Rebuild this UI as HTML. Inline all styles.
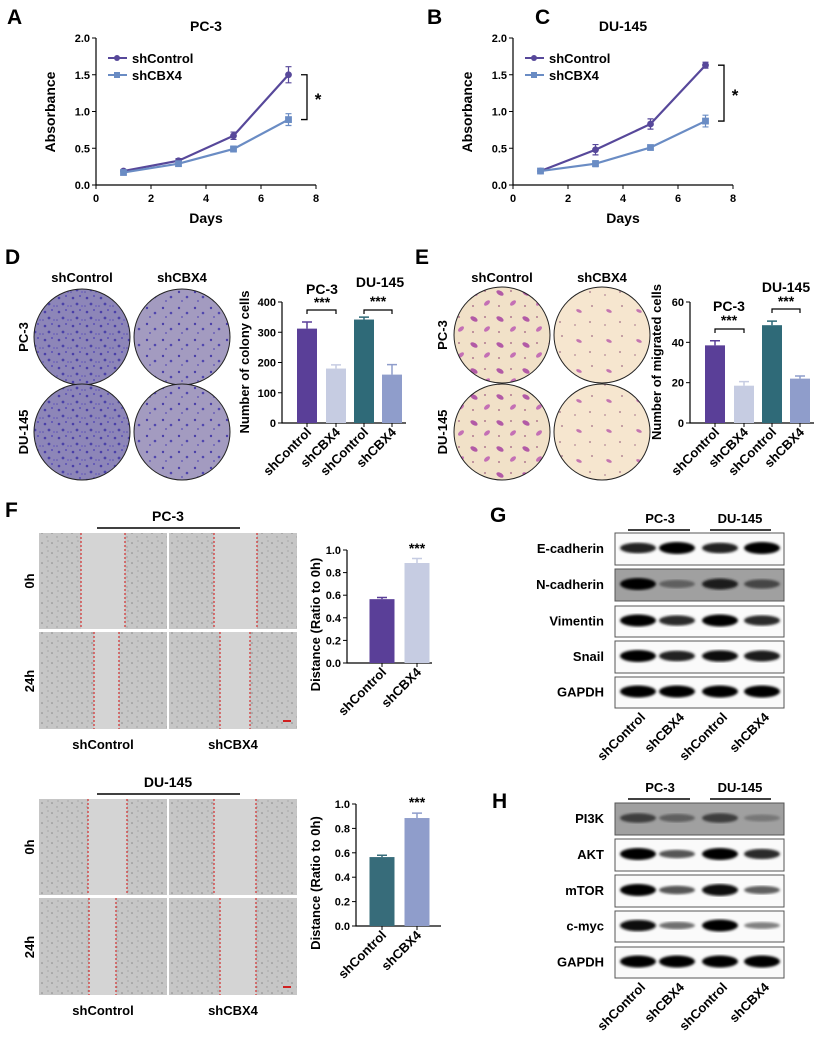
<!DOCTYPE html>
<html><head><meta charset="utf-8">
<style>
html,body{margin:0;padding:0;background:#fff;}
svg{display:block;font-family:"Liberation Sans",Arial,sans-serif;font-weight:bold;}
</style></head>
<body>
<svg id="fig" width="824" height="1043" viewBox="0 0 824 1043" xmlns="http://www.w3.org/2000/svg">
<defs>
  <pattern id="crystal" width="14" height="14" patternUnits="userSpaceOnUse">
    <rect width="14" height="14" fill="#8d86b8"/>
    <circle cx="3" cy="4" r="1.3" fill="#4a3fa8"/><circle cx="10" cy="2" r="1" fill="#5a4fb5"/>
    <circle cx="7" cy="10" r="1.4" fill="#4b42a8"/><circle cx="12" cy="12" r="0.9" fill="#6a5fc0"/>
    <circle cx="1" cy="12" r="0.8" fill="#5a50b0"/>
  </pattern>
  <pattern id="crystal2" width="16" height="16" patternUnits="userSpaceOnUse">
    <rect width="16" height="16" fill="#a39bc0"/>
    <circle cx="3" cy="4" r="1.2" fill="#4a3fa8"/><circle cx="11" cy="9" r="1.3" fill="#5147ae"/>
    <circle cx="6" cy="13" r="0.9" fill="#5a4fb5"/>
  </pattern>
  <pattern id="trans" width="26" height="26" patternUnits="userSpaceOnUse">
    <rect width="26" height="26" fill="#f1e1c8"/>
    <ellipse cx="6" cy="7" rx="4" ry="2.2" fill="#b25aa6" transform="rotate(30 6 7)"/>
    <ellipse cx="19" cy="17" rx="3.5" ry="2" fill="#c470b5" transform="rotate(-40 19 17)"/>
    <circle cx="17" cy="5" r="1" fill="#b07a90"/><circle cx="5" cy="20" r="1" fill="#b07a90"/>
  </pattern>
  <pattern id="trans2" width="30" height="30" patternUnits="userSpaceOnUse">
    <rect width="30" height="30" fill="#f6e6cf"/>
    <ellipse cx="9" cy="11" rx="3" ry="1.5" fill="#c476b0" transform="rotate(25 9 11)"/>
    <circle cx="22" cy="6" r="1" fill="#b58a98"/><circle cx="20" cy="22" r="1" fill="#b58a98"/>
    <circle cx="5" cy="25" r="0.9" fill="#b58a98"/>
  </pattern>
  <pattern id="speck" width="10" height="10" patternUnits="userSpaceOnUse">
    <rect width="10" height="10" fill="#c6c6c6"/>
    <circle cx="2" cy="3" r="0.8" fill="#888"/><circle cx="7" cy="7" r="0.7" fill="#999"/>
    <circle cx="8" cy="1" r="0.5" fill="#777"/>
  </pattern>
  <filter id="blur"><feGaussianBlur stdDeviation="1.2"/></filter>
</defs>

<g font-size="21" fill="#000">
  <text x="7" y="24">A</text>
  <text x="427" y="24">B</text>
  <text x="535" y="24">C</text>
  <text x="5" y="264">D</text>
  <text x="415" y="264">E</text>
  <text x="5" y="517">F</text>
  <text x="490" y="522">G</text>
  <text x="492" y="808">H</text>
</g>

<g id="layerA"></g>
<g id="layerC"></g>
<g id="layerD"></g>
<g id="layerE"></g>
<g id="layerF"></g>
<g id="layerG"></g>
<g id="layerH"></g>
</svg>

<script>
// ---------- Data ----------
const days = [1, 3, 5, 7];
const dayTicks = [0, 2, 4, 6, 8];
const absTicks = [0.0, 0.5, 1.0, 1.5, 2.0];
const absTickLabels = ["0.0", "0.5", "1.0", "1.5", "2.0"];
const pcCtrl = [0.19, 0.33, 0.67, 1.50];
const pcCtrlErr = [0.02, 0.03, 0.05, 0.11];
const pcCbx = [0.17, 0.29, 0.49, 0.89];
const pcCbxErr = [0.02, 0.02, 0.04, 0.08];
const duCtrl = [0.19, 0.48, 0.83, 1.63];
const duCtrlErr = [0.02, 0.07, 0.07, 0.04];
const duCbx = [0.19, 0.29, 0.51, 0.87];
const duCbxErr = [0.02, 0.04, 0.03, 0.08];

const groupLabels = ["shControl", "shCBX4", "shControl", "shCBX4"];
const colonyVals = [312, 180, 342, 160];
const colonyErr = [22, 12, 8, 33];
const colonyTicks = [0, 100, 200, 300, 400];
const migVals = [38.5, 18.5, 48.5, 22];
const migErr = [2.3, 2.0, 2.0, 1.3];
const migTicks = [0, 20, 40, 60];
const woundLabels = ["shControl", "shCBX4"];
const woundPC = [0.565, 0.885];
const woundPCErr = [0.015, 0.04];
const woundDU = [0.565, 0.885];
const woundDUErr = [0.015, 0.04];
const woundTicks = [0, 0.2, 0.4, 0.6, 0.8, 1.0];
const woundTickLabels = ["0.0", "0.2", "0.4", "0.6", "0.8", "1.0"];

const blotG = ["E-cadherin", "N-cadherin", "Vimentin", "Snail", "GAPDH"];
const blotGInt = [[0.8, 1.0, 0.8, 1.0], [1.0, 0.45, 0.85, 0.6], [1.0, 0.75, 1.0, 0.75], [1.0, 0.8, 0.9, 0.85], [1.0, 1.0, 1.0, 1.0]];
const blotH = ["PI3K", "AKT", "mTOR", "c-myc", "GAPDH"];
const blotHInt = [[0.65, 0.45, 0.65, 0.3], [1.0, 0.5, 1.0, 0.75], [1.0, 0.5, 0.95, 0.45], [0.9, 0.35, 1.0, 0.25], [1.0, 1.0, 1.0, 1.0]];

// ---------- helpers ----------
const NS = "http://www.w3.org/2000/svg";
function mk(tag, attrs, parent) {
  const el = document.createElementNS(NS, tag);
  for (const k in attrs) el.setAttribute(k, attrs[k]);
  parent.appendChild(el);
  return el;
}
function txt(parent, x, y, s, size, anchor, extra) {
  const t = mk("text", Object.assign({x: x, y: y, "font-size": size, "text-anchor": anchor || "middle", fill: "#000"}, extra || {}), parent);
  t.textContent = s;
  return t;
}

// ---------- line charts ----------
function lineChart(layer, ox, title, ctrl, ctrlErr, cbx, cbxErr) {
  const x0 = ox, x1 = ox + 220, y0 = 185, yT = 38;
  const sx = d => x0 + (d - 0) / 8 * (x1 - x0);
  const sy = v => y0 - v / 2 * (y0 - yT);
  const ax = mk("path", {d: `M${x0},${yT} V${y0} H${x1}`, stroke: "#000", "stroke-width": 1.2, fill: "none"}, layer);
  
  
  absTicks.forEach((t, i) => {
    mk("line", {x1: x0 - 4, x2: x0, y1: sy(t), y2: sy(t), stroke: "#000"}, layer);
    const tl = txt(layer, x0 - 6, sy(t) + 4, absTickLabels[i], 11, "end");
    
    
  });
  dayTicks.forEach(t => {
    mk("line", {x1: sx(t), x2: sx(t), y1: y0, y2: y0 + 4, stroke: "#000"}, layer);
    const tl = txt(layer, sx(t), y0 + 17, String(t), 11);
    
    
  });
  const tt = txt(layer, ox + 110, 31, title, 14);
  
  
  const xt = txt(layer, ox + 110, 223, "Days", 14);
  
  
  const yt = txt(layer, 0, 0, "Absorbance", 14, "middle", {transform: `translate(${ox - 41},112) rotate(-90)`});
  
  

  const series = [[ctrl, ctrlErr, "#57489a", "circle"], [cbx, cbxErr, "#6a8cc4", "square"]];
  series.forEach(([vals, errs, col, shape], si) => {
    const g = mk("g", {}, layer);
    
    
    mk("polyline", {points: days.map((d, i) => `${sx(d)},${sy(vals[i])}`).join(" "), stroke: col, "stroke-width": 2.2, fill: "none"}, g);
    days.forEach((d, i) => {
      const e = errs[i];
      mk("path", {d: `M${sx(d)},${sy(vals[i] - e)} V${sy(vals[i] + e)} M${sx(d) - 3},${sy(vals[i] + e)} h6 M${sx(d) - 3},${sy(vals[i] - e)} h6`, stroke: col, "stroke-width": 1.2, fill: "none"}, g);
      let m;
      if (shape === "circle") m = mk("circle", {cx: sx(d), cy: sy(vals[i]), r: 3.4, fill: col}, g);
      else m = mk("rect", {x: sx(d) - 3.4, y: sy(vals[i]) - 3.4, width: 6.8, height: 6.8, fill: col}, g);
      
      
    });
    const ly = 58 + si * 17;
    const lg = mk("g", {}, layer);
    
    
    mk("line", {x1: ox + 12, x2: ox + 31, y1: ly, y2: ly, stroke: col, "stroke-width": 2}, lg);
    if (shape === "circle") mk("circle", {cx: ox + 21, cy: ly, r: 3, fill: col}, lg);
    else mk("rect", {x: ox + 18, y: ly - 3, width: 6, height: 6, fill: col}, lg);
    txt(lg, ox + 36, ly + 5, si === 0 ? "shControl" : "shCBX4", 13, "start");
  });
  const last = days.length - 1;
  const br = mk("path", {d: `M${x1 - 15},${sy(ctrl[last])} h6 V${sy(cbx[last])} h-6`, stroke: "#000", "stroke-width": 1.3, fill: "none"}, layer);
  
  
  const st = txt(layer, x1 + 2, (sy(ctrl[last]) + sy(cbx[last])) / 2 + 8, "*", 17, "middle");
  
  
}
lineChart(document.getElementById("layerA"), 96, "PC-3", pcCtrl, pcCtrlErr, pcCbx, pcCbxErr);
lineChart(document.getElementById("layerC"), 513, "DU-145", duCtrl, duCtrlErr, duCbx, duCbxErr);

// ---------- bar charts ----------
function barChart(layer, o) {
  const sy = v => o.y0 - v / o.max * (o.y0 - o.yT);
  const ax = mk("path", {d: `M${o.ax},${o.yT} V${o.y0} H${o.xEnd}`, stroke: "#000", "stroke-width": 1.2, fill: "none"}, layer);
  
  
  o.ticks.forEach((t, i) => {
    mk("line", {x1: o.ax - 4, x2: o.ax, y1: sy(t), y2: sy(t), stroke: "#000"}, layer);
    const tl = txt(layer, o.ax - 6, sy(t) + 4, o.tickLabels ? o.tickLabels[i] : String(t), 11, "end");
    
    
  });
  o.vals.forEach((v, i) => {
    const c = o.centers[i];
    const b = mk("rect", {x: c - o.w / 2, y: sy(v), width: o.w, height: o.y0 - sy(v), fill: o.colors[i]}, layer);
    
    
    const e = o.errs[i];
    const eb = mk("path", {d: `M${c},${sy(v)} V${sy(v + e)} M${c - 5},${sy(v + e)} h10`, stroke: o.colors[i], "stroke-width": 1.5, fill: "none"}, layer);
    
    
    mk("line", {x1: c, x2: c, y1: o.y0, y2: o.y0 + 4, stroke: "#000"}, layer);
    const xl = txt(layer, 0, 0, o.labels[i], 13, "end", {transform: `translate(${c + 5},${o.y0 + 10}) rotate(-45)`});
    
    
  });
  const yl = txt(layer, 0, 0, o.ytitle, 13, "middle", {transform: `translate(${o.ylx},${o.yly}) rotate(-90)`});
  
  
}

// ---------- Panel D ----------
(function () {
  const L = document.getElementById("layerD");
  txt(L, 82, 282, "shControl", 13);
  txt(L, 182, 282, "shCBX4", 13);
  txt(L, 0, 0, "PC-3", 13, "middle", {transform: "translate(28,337) rotate(-90)"});
  txt(L, 0, 0, "DU-145", 13, "middle", {transform: "translate(28,432) rotate(-90)"});
  [[82, 337, "crystal"], [182, 337, "crystal2"], [82, 432, "crystal"], [182, 432, "crystal2"]].forEach(([cx, cy, p]) => {
    const d = mk("circle", {cx: cx, cy: cy, r: 48, fill: `url(#${p})`, stroke: "#222", "stroke-width": 1}, L);
    
    
  });
  barChart(L, {ax: 282, xEnd: 406, y0: 423, yT: 302, max: 400, ticks: colonyTicks, vals: colonyVals, errs: colonyErr,
    centers: [307, 336, 364, 392], w: 20, colors: ["#5a3f98", "#c6cce2", "#2f6a78", "#8f9dcb"], labels: groupLabels,
    ytitle: "Number of colony cells", ylx: 249, yly: 362});
  txt(L, 322, 294, "PC-3", 14); txt(L, 322, 307, "***", 14);
  txt(L, 380, 287, "DU-145", 14); txt(L, 378, 306, "***", 14);
  mk("path", {d: "M307,314 v-4 h29 v4 M364,314 v-4 h28 v4", stroke: "#000", "stroke-width": 1.2, fill: "none"}, L);
})();

// ---------- Panel E ----------
(function () {
  const L = document.getElementById("layerE");
  txt(L, 502, 282, "shControl", 13);
  txt(L, 602, 282, "shCBX4", 13);
  txt(L, 0, 0, "PC-3", 13, "middle", {transform: "translate(447,335) rotate(-90)"});
  txt(L, 0, 0, "DU-145", 13, "middle", {transform: "translate(447,432) rotate(-90)"});
  [[502, 335, "trans"], [602, 335, "trans2"], [502, 432, "trans"], [602, 432, "trans2"]].forEach(([cx, cy, p]) => {
    const d = mk("circle", {cx: cx, cy: cy, r: 48, fill: `url(#${p})`, stroke: "#222", "stroke-width": 1}, L);
    
    
  });
  barChart(L, {ax: 690, xEnd: 814, y0: 423, yT: 302, max: 60, ticks: migTicks, vals: migVals, errs: migErr,
    centers: [715, 744, 772, 800], w: 20, colors: ["#5a3f98", "#c6cce2", "#2f6a78", "#8f9dcb"], labels: groupLabels,
    ytitle: "Number of migrated cells", ylx: 661, yly: 362});
  txt(L, 729, 311, "PC-3", 14); txt(L, 729, 325, "***", 14);
  txt(L, 786, 292, "DU-145", 14); txt(L, 786, 306, "***", 14);
  mk("path", {d: "M715,333 v-4 h29 v4 M772,313 v-4 h28 v4", stroke: "#000", "stroke-width": 1.2, fill: "none"}, L);
})();

// ---------- Panel F ----------
function scratch(L, top, title, reds, chartAx, y0, yT, vals, errs, colors) {
  txt(L, 168, top - 12, title, 14);
  mk("line", {x1: 97, x2: 240, y1: top - 5, y2: top - 5, stroke: "#000", "stroke-width": 1.5}, L);
  const rows = [[top, top + 96], [top + 99, top + 196]];
  const cols = [[39, 167], [169, 297]];
  rows.forEach((r, ri) => cols.forEach((c, ci) => {
    const im = mk("rect", {x: c[0], y: r[0], width: c[1] - c[0], height: r[1] - r[0], fill: "url(#speck)"}, L);
    
    
    const rl = reds[ri][ci];
    mk("rect", {x: rl[0], y: r[0], width: rl[1] - rl[0], height: r[1] - r[0], fill: "#d4d4d4"}, L);
    rl.forEach(x => mk("line", {x1: x, x2: x, y1: r[0], y2: r[1], stroke: "#d23a3a", "stroke-width": 1.3, "stroke-dasharray": "2,2"}, L));
  }));
  mk("line", {x1: 283, x2: 291, y1: top + 188, y2: top + 188, stroke: "#d02020", "stroke-width": 2}, L);
  txt(L, 0, 0, "0h", 13, "middle", {transform: `translate(34,${top + 48}) rotate(-90)`});
  txt(L, 0, 0, "24h", 13, "middle", {transform: `translate(34,${top + 148}) rotate(-90)`});
  txt(L, 103, top + 216, "shControl", 13);
  txt(L, 233, top + 216, "shCBX4", 13);
  barChart(L, {ax: chartAx, xEnd: chartAx + 85, y0: y0, yT: yT, max: 1.0, ticks: woundTicks, tickLabels: woundTickLabels,
    vals: vals, errs: errs, centers: [382, 417], w: 25, colors: colors, labels: woundLabels,
    ytitle: "Distance (Ratio to 0h)", ylx: 320, yly: (y0 + yT) / 2 + 18});
  txt(L, 417, yT + 3, "***", 14);
}
(function () {
  const L = document.getElementById("layerF");
  scratch(L, 533, "PC-3", [[[81, 125], [214, 257]], [[94, 119], [220, 250]]], 347, 663, 550, woundPC, woundPCErr, ["#5a3f98", "#c6cce2"]);
  scratch(L, 799, "DU-145", [[[88, 127], [214, 256]], [[89, 116], [220, 256]]], 356, 926, 804, woundDU, woundDUErr, ["#376c7a", "#8f9dcb"]);
})();

// ---------- Blots ----------
function blot(L, names, ints, rowsY, headerY, greyRows, labelY) {
  const lanes = [638, 677, 720, 762];
  txt(L, 660, headerY, "PC-3", 13);
  txt(L, 740, headerY, "DU-145", 13);
  mk("line", {x1: 628, x2: 690, y1: headerY + 7, y2: headerY + 7, stroke: "#000", "stroke-width": 1.5}, L);
  mk("line", {x1: 710, x2: 771, y1: headerY + 7, y2: headerY + 7, stroke: "#000", "stroke-width": 1.5}, L);
  names.forEach((n, ri) => {
    const [a, b] = rowsY[ri];
    const g = mk("g", {}, L);
    
    
    mk("rect", {x: 615, y: a, width: 169, height: b - a, fill: greyRows.includes(ri) ? "#a0a0a0" : "#fafafa", stroke: "#555", "stroke-width": 1}, g);
    const cy = (a + b) / 2 - 1;
    ints[ri].forEach((v, li) => {
      const shade = Math.round(170 - 170 * v);
      mk("ellipse", {cx: lanes[li], cy: cy, rx: 18, ry: 2.5 + 3.5 * v, fill: `rgb(${shade},${shade},${shade})`, filter: "url(#blur)"}, g);
    });
    txt(g, 604, cy + 5, n, 13, "end");
  });
  lanes.forEach((x, i) => {
    const t = txt(L, 0, 0, groupLabels[i], 13, "end", {transform: `translate(${x + 8},${labelY}) rotate(-45)`});
    
    
  });
}
blot(document.getElementById("layerG"), blotG, blotGInt,
  [[533, 565], [569, 601], [606, 637], [641, 673], [677, 708]], 523, [1], 718);
blot(document.getElementById("layerH"), blotH, blotHInt,
  [[803, 835], [839, 871], [875, 907], [911, 942], [947, 978]], 792, [0], 988);
</script>
</body></html>
